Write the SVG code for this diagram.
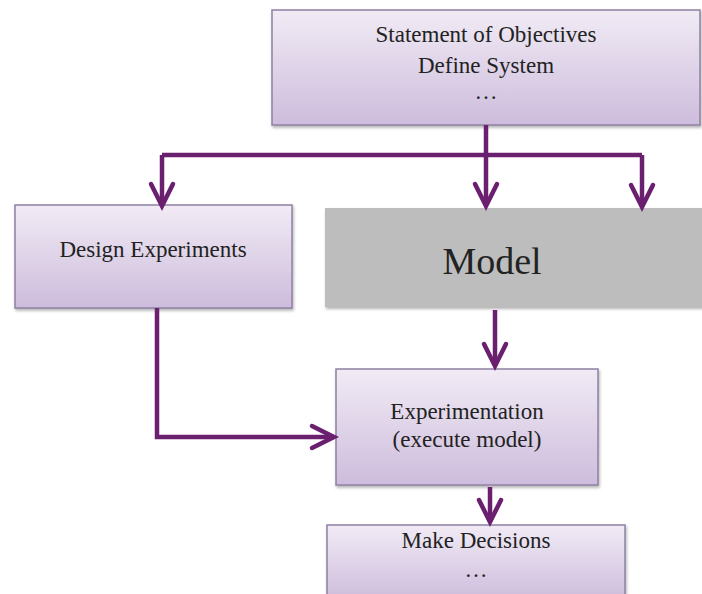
<svg xmlns="http://www.w3.org/2000/svg" width="702" height="594" viewBox="0 0 702 594">
  <defs>
    <linearGradient id="lavender" x1="0" y1="0" x2="0" y2="1">
      <stop offset="0" stop-color="#f1ebf5"/>
      <stop offset="1" stop-color="#cdbcdc"/>
    </linearGradient>
    <filter id="shadow" x="-5%" y="-5%" width="110%" height="120%">
      <feDropShadow dx="1" dy="2" stdDeviation="1.5" flood-color="#000" flood-opacity="0.3"/>
    </filter>
    <marker id="head" markerUnits="userSpaceOnUse" markerWidth="30" markerHeight="30" refX="0" refY="0" viewBox="-26 -15 30 30" orient="auto" overflow="visible">
      <path d="M-22,-11 L0,0 L-22,11" fill="none" stroke="#6a1f6f" stroke-width="4.5" stroke-linejoin="miter" stroke-linecap="round"/>
    </marker>
  </defs>
  <style>
    .box { fill: url(#lavender); stroke: #8f80a3; stroke-width: 1.5; filter: url(#shadow); }
    .grey { fill: #bdbdbd; filter: url(#shadow); }
    .lbl { font-family: "Liberation Serif", "Times New Roman", serif; font-size: 23px; fill: #222; text-anchor: middle; }
    .big { font-size: 38px; }
    .wire { fill: none; stroke: #6a1f6f; stroke-width: 4.5; stroke-linejoin: miter; }
    .arrow { marker-end: url(#head); }
  </style>

  <rect width="702" height="594" fill="#ffffff"/>

  <g id="objectives">
    <rect class="box" x="272" y="10" width="428" height="115"/>
    <text class="lbl" x="486" y="42">Statement of Objectives</text>
    <text class="lbl" x="486" y="73">Define System</text>
    <text class="lbl" x="486" y="99">…</text>
  </g>

  <g id="design">
    <rect class="box" x="15" y="205" width="277" height="103"/>
    <text class="lbl" x="153" y="257">Design Experiments</text>
  </g>

  <g id="model">
    <rect class="grey" x="325" y="208" width="380" height="99"/>
    <text class="lbl big" x="492" y="274">Model</text>
  </g>

  <g id="experimentation">
    <rect class="box" x="336" y="369" width="262" height="116"/>
    <text class="lbl" x="467" y="419">Experimentation</text>
    <text class="lbl" x="467" y="447">(execute model)</text>
  </g>

  <g id="decisions">
    <rect class="box" x="327" y="525" width="298" height="75"/>
    <text class="lbl" x="476" y="548">Make Decisions</text>
    <text class="lbl" x="476" y="577">…</text>
  </g>

  <g id="connectors">
    <path class="wire" d="M162,155 L642,155"/>
    <path class="wire arrow" d="M486,125 L486,206"/>
    <path class="wire arrow" d="M162,155 L162,206"/>
    <path class="wire arrow" d="M642,155 L642,207"/>
    <path class="wire arrow" d="M157,308 L157,437 L334,437"/>
    <path class="wire arrow" d="M495,310 L495,366"/>
    <path class="wire arrow" d="M490,487 L490,522"/>
  </g>
</svg>
